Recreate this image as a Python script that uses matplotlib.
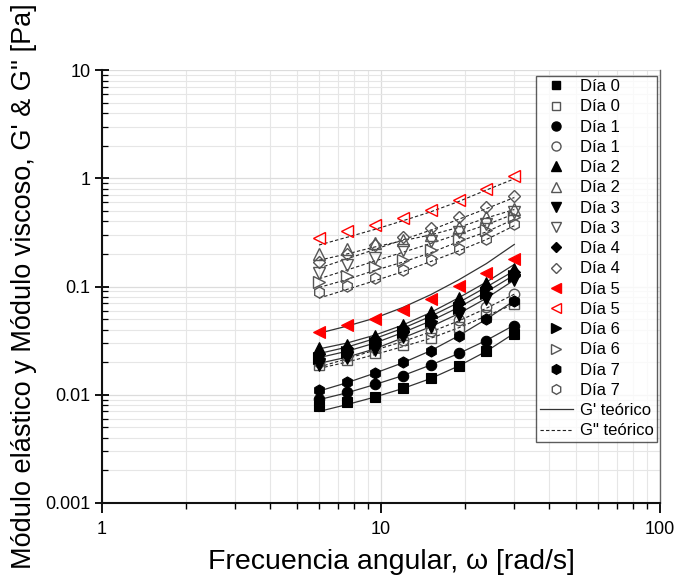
import matplotlib
matplotlib.use("Agg")
import matplotlib.pyplot as plt
from matplotlib.lines import Line2D
from matplotlib.ticker import LogLocator, NullFormatter, FixedLocator, FixedFormatter

plt.rcParams['font.family'] = ['Liberation Sans', 'DejaVu Sans']

# Angular frequency sweep (rad/s)
omega = [6.0, 7.55, 9.5, 11.97, 15.07, 18.97, 23.88, 30.06]

days = ["Día 0", "Día 1", "Día 2", "Día 3", "Día 4", "Día 5", "Día 6", "Día 7"]

# Storage modulus G' (Pa), measured
g1_d0 = [0.0079, 0.0085, 0.0096, 0.0115, 0.0143, 0.0186, 0.0255, 0.0365]
g1_d1 = [0.0091, 0.0105, 0.0126, 0.0150, 0.0190, 0.0241, 0.0316, 0.0435]
g1_d2 = [0.0270, 0.0290, 0.0350, 0.0440, 0.0580, 0.0780, 0.1080, 0.1450]
g1_d3 = [0.0190, 0.0220, 0.0260, 0.0340, 0.0420, 0.0550, 0.0760, 0.1150]
g1_d4 = [0.0240, 0.0270, 0.0330, 0.0410, 0.0530, 0.0700, 0.0980, 0.1350]
g1_d5 = [0.0383, 0.0442, 0.0502, 0.0612, 0.0769, 0.1020, 0.1330, 0.1810]
g1_d6 = [0.0220, 0.0250, 0.0300, 0.0380, 0.0480, 0.0630, 0.0880, 0.1250]
g1_d7 = [0.0110, 0.0130, 0.0158, 0.0199, 0.0255, 0.0352, 0.0502, 0.0742]

# Loss modulus G'' (Pa), measured
g2_d0 = [0.0190, 0.0210, 0.0245, 0.0285, 0.0335, 0.0420, 0.0540, 0.0690]
g2_d1 = [0.0200, 0.0230, 0.0270, 0.0320, 0.0390, 0.0490, 0.0640, 0.0856]
g2_d2 = [0.200, 0.222, 0.255, 0.272, 0.300, 0.355, 0.440, 0.525]
g2_d3 = [0.133, 0.157, 0.184, 0.218, 0.262, 0.318, 0.381, 0.487]
g2_d4 = [0.168, 0.201, 0.240, 0.290, 0.350, 0.438, 0.542, 0.681]
g2_d5 = [0.282, 0.323, 0.367, 0.429, 0.513, 0.635, 0.803, 1.050]
g2_d6 = [0.111, 0.126, 0.151, 0.177, 0.216, 0.277, 0.330, 0.438]
g2_d7 = [0.0886, 0.102, 0.120, 0.142, 0.177, 0.220, 0.277, 0.375]

# Model curves for G' (solid) and G'' (dashed)
fit1 = [
    [0.0070, 0.0081, 0.0095, 0.0114, 0.0141, 0.0184, 0.0252, 0.0370],
    [0.0090, 0.0104, 0.0124, 0.0150, 0.0188, 0.0240, 0.0318, 0.0440],
    [0.0265, 0.0300, 0.0355, 0.0440, 0.0575, 0.0785, 0.1100, 0.1600],
    [0.0195, 0.0222, 0.0265, 0.0335, 0.0425, 0.0560, 0.0780, 0.1150],
    [0.0240, 0.0275, 0.0330, 0.0410, 0.0530, 0.0710, 0.0990, 0.1400],
    [0.0370, 0.0430, 0.0510, 0.0640, 0.0840, 0.1150, 0.1630, 0.2450],
    [0.0220, 0.0252, 0.0300, 0.0375, 0.0480, 0.0640, 0.0890, 0.1280],
    [0.0108, 0.0129, 0.0158, 0.0197, 0.0255, 0.0350, 0.0500, 0.0740],
]
fit2 = [
    [0.0175, 0.0200, 0.0235, 0.0278, 0.0332, 0.0415, 0.0535, 0.0690],
    [0.0180, 0.0215, 0.0258, 0.0310, 0.0380, 0.0480, 0.0630, 0.0850],
    [0.175, 0.200, 0.232, 0.265, 0.300, 0.352, 0.430, 0.515],
    [0.118, 0.142, 0.172, 0.207, 0.250, 0.305, 0.372, 0.470],
    [0.148, 0.180, 0.220, 0.270, 0.332, 0.418, 0.525, 0.665],
    [0.242, 0.285, 0.337, 0.405, 0.490, 0.610, 0.780, 0.990],
    [0.098, 0.116, 0.141, 0.168, 0.205, 0.260, 0.320, 0.420],
    [0.078, 0.094, 0.113, 0.137, 0.170, 0.213, 0.272, 0.365],
]

g1_all = [g1_d0, g1_d1, g1_d2, g1_d3, g1_d4, g1_d5, g1_d6, g1_d7]
g2_all = [g2_d0, g2_d1, g2_d2, g2_d3, g2_d4, g2_d5, g2_d6, g2_d7]
markers = ['s', 'o', '^', 'v', 'D', '<', '>', 'h']
sizes = [7, 7.5, 8, 8, 6.5, 8, 8, 8]
fill_col = ['black'] * 5 + ['red'] + ['black'] * 2
open_col = ['#555555'] * 5 + ['red'] + ['#555555'] * 2

fig = plt.figure(figsize=(6.79, 5.80), dpi=100)
ax = fig.add_axes([0.150, 0.133, 0.822, 0.746])

for k in range(8):
    ax.plot(omega, fit1[k], '-', color='#333333', lw=0.9, zorder=2)
    ax.plot(omega, fit2[k], linestyle=(0, (3, 2)), color='#222222', lw=0.8, zorder=2)

for k in range(8):
    ax.plot(omega, g2_all[k], linestyle='none', marker=markers[k], ms=sizes[k],
            mfc='none', mec=open_col[k], mew=1.0, zorder=3)
for k in range(8):
    ax.plot(omega, g1_all[k], linestyle='none', marker=markers[k], ms=sizes[k],
            mfc=fill_col[k], mec=fill_col[k], mew=0.8, zorder=4)

ax.set_xscale('log')
ax.set_yscale('log')
ax.set_xlim(1, 100)
ax.set_ylim(0.001, 10)

ax.grid(True, which='major', color='#dcdcdc', lw=0.9, zorder=0)
ax.grid(True, which='minor', color='#e6e6e6', lw=0.8, zorder=0)
ax.set_axisbelow(True)

ax.xaxis.set_major_locator(FixedLocator([1, 10, 100]))
ax.xaxis.set_major_formatter(FixedFormatter(['1', '10', '100']))
ax.yaxis.set_major_locator(FixedLocator([0.001, 0.01, 0.1, 1, 10]))
ax.yaxis.set_major_formatter(FixedFormatter(['0.001', '0.01', '0.1', '1', '10']))
ax.xaxis.set_minor_locator(LogLocator(base=10, subs=range(2, 10)))
ax.yaxis.set_minor_locator(LogLocator(base=10, subs=range(2, 10)))
ax.xaxis.set_minor_formatter(NullFormatter())
ax.yaxis.set_minor_formatter(NullFormatter())

ax.tick_params(axis='x', which='major', direction='out', length=7, width=1.3,
               labelsize=13, pad=6)
ax.tick_params(axis='x', which='minor', direction='out', length=4, width=1.0)
ax.tick_params(axis='y', which='major', direction='inout', length=10, width=1.3,
               labelsize=13, pad=3)
ax.tick_params(axis='y', which='minor', direction='in', length=4, width=0.9)

ax.spines['top'].set_visible(False)
ax.spines['right'].set_color('#666666')
ax.spines['right'].set_linewidth(1.0)
for s in ('left', 'bottom'):
    ax.spines[s].set_linewidth(1.5)
    ax.spines[s].set_color('#111111')

ax.set_xlabel('Frecuencia angular, ω [rad/s]', fontsize=20.5, labelpad=8)
ax.xaxis.label.set_x(0.518)
ax.set_ylabel("Módulo elástico y Módulo viscoso, G' & G'' [Pa]", fontsize=19.5, labelpad=6)

handles, labels = [], []
for k in range(8):
    handles.append(Line2D([], [], linestyle='none', marker=markers[k], ms=sizes[k] - 1,
                          mfc=fill_col[k], mec=fill_col[k]))
    labels.append(days[k])
    handles.append(Line2D([], [], linestyle='none', marker=markers[k], ms=sizes[k] - 1,
                          mfc='none', mec=open_col[k]))
    labels.append(days[k])
handles.append(Line2D([], [], color='#333333', lw=0.9))
labels.append("G' teórico")
handles.append(Line2D([], [], color='#222222', lw=0.8, linestyle=(0, (3, 2))))
labels.append('G" teórico')

leg = ax.legend(handles, labels, loc='upper right', bbox_to_anchor=(0.9946, 0.987),
                fontsize=12, frameon=True, fancybox=False, edgecolor='#333333',
                labelspacing=0.315, handlelength=2.0, handletextpad=0.4,
                borderpad=0.2, borderaxespad=0.0)
leg.get_frame().set_linewidth(1.0)

fig.savefig('out.png', dpi=100)
